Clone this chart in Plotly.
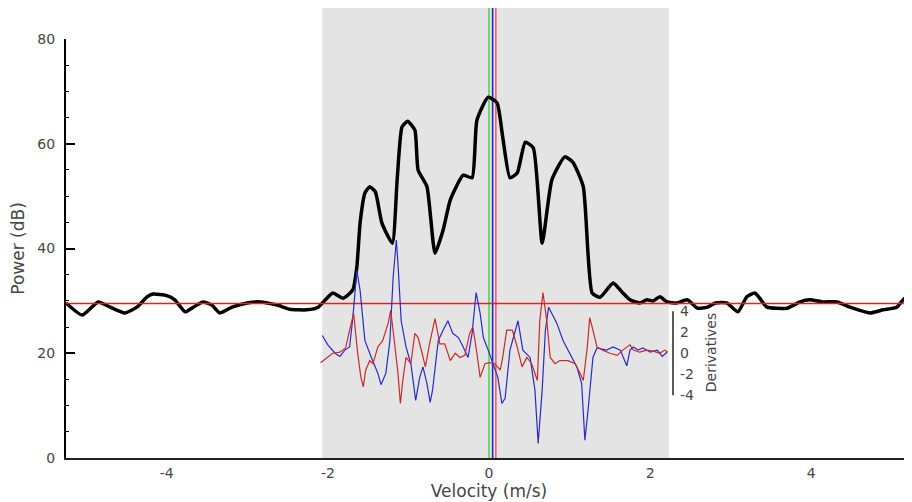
import plotly.graph_objects as go

# ---------------- data ----------------
velocity = [-5.25, -5.05, -4.85, -4.70, -4.52, -4.37, -4.24, -4.17, -4.00, -3.90,
            -3.77, -3.67, -3.55, -3.44, -3.34, -3.19, -3.00, -2.84, -2.63, -2.47,
            -2.26, -2.12, -1.94, -1.81, -1.69, -1.64, -1.60, -1.54, -1.48, -1.41,
            -1.33, -1.20, -1.14, -1.08, -1.01, -0.92, -0.88, -0.77, -0.67, -0.57,
            -0.48, -0.32, -0.21, -0.15, -0.01, 0.10, 0.17, 0.26, 0.35, 0.45,
            0.55, 0.66, 0.78, 0.94, 1.04, 1.17, 1.28, 1.38, 1.54, 1.65,
            1.75, 1.87, 1.96, 2.04, 2.12, 2.21, 2.33, 2.46, 2.59, 2.71,
            2.81, 2.95, 3.09, 3.20, 3.30, 3.36, 3.45, 3.70, 3.86, 3.98,
            4.15, 4.32, 4.48, 4.73, 4.89, 5.06, 5.16, 5.25]
power_db = [29.6, 27.3, 29.8, 28.8, 27.7, 28.8, 30.8, 31.3, 31.0, 30.2,
            27.9, 28.8, 29.8, 29.2, 27.7, 28.8, 29.6, 29.8, 29.2, 28.4,
            28.3, 28.8, 31.5, 30.5, 32.1, 36.5, 44.9, 50.6, 51.8, 50.8,
            44.9, 41.0, 53.1, 63.2, 64.3, 62.6, 55.0, 51.8, 39.1, 43.5,
            49.3, 54.0, 53.5, 64.5, 68.9, 67.8, 61.3, 53.5, 54.4, 60.3,
            59.2, 41.0, 53.1, 57.5, 56.5, 51.8, 31.5, 30.7, 33.4, 31.7,
            30.2, 29.6, 30.2, 30.0, 30.8, 29.8, 29.6, 30.2, 28.6, 28.8,
            29.6, 29.6, 27.9, 30.8, 31.5, 30.5, 28.8, 28.6, 29.8, 30.2,
            29.8, 29.8, 28.8, 27.7, 28.3, 28.8, 30.5, 30.4]

vel_deriv_blue = [-2.07, -2.00, -1.91, -1.85, -1.79, -1.73, -1.69, -1.64, -1.60, -1.54,
                  -1.46, -1.38, -1.34, -1.28, -1.23, -1.19, -1.15, -1.13, -1.09, -1.03,
                  -0.97, -0.91, -0.86, -0.82, -0.77, -0.73, -0.70, -0.63, -0.57, -0.51,
                  -0.45, -0.38, -0.32, -0.26, -0.21, -0.16, -0.11, -0.07, -0.01, 0.05,
                  0.11, 0.16, 0.20, 0.26, 0.36, 0.42, 0.51, 0.57, 0.61, 0.66,
                  0.70, 0.74, 0.84, 0.92, 1.03, 1.09, 1.15, 1.19, 1.23, 1.29,
                  1.34, 1.46, 1.54, 1.63, 1.71, 1.75, 1.79, 1.85, 1.91, 2.00,
                  2.09, 2.15, 2.21]
deriv_blue = [1.7, 0.8, 0.0, -0.3, 0.3, 0.6, 3.4, 7.9, 6.0, 1.2,
              -0.4, -1.9, -3.0, -1.9, 1.2, 7.2, 10.8, 8.6, 3.1, 0.6,
              -1.0, -4.5, -2.3, -1.3, -2.9, -4.7, -3.5, 1.2, 2.2, 3.1,
              1.9, 1.5, 0.6, -0.4, 1.9, 5.8, 3.8, 1.5, 0.3, -1.0,
              -2.3, -4.8, -4.3, 0.3, 3.1, 0.3, -0.4, -3.5, -8.6, -3.5,
              2.2, 4.4, 2.9, 1.2, -0.4, -1.3, -2.9, -8.3, -5.4, -0.4,
              0.5, 0.3, 0.6, 0.3, -1.2, 0.3, 0.6, 0.3, 0.5, 0.1,
              0.3, -0.3, 0.1]

vel_deriv_red = [-2.09, -2.00, -1.94, -1.85, -1.78, -1.73, -1.68, -1.63, -1.59, -1.56,
                 -1.53, -1.48, -1.44, -1.38, -1.32, -1.25, -1.22, -1.18, -1.13, -1.10,
                 -1.07, -1.03, -0.97, -0.92, -0.88, -0.83, -0.79, -0.73, -0.67, -0.61,
                 -0.55, -0.48, -0.42, -0.36, -0.30, -0.24, -0.20, -0.15, -0.11, -0.05,
                 0.01, 0.07, 0.14, 0.17, 0.22, 0.29, 0.35, 0.41, 0.47, 0.53,
                 0.60, 0.63, 0.67, 0.72, 0.76, 0.82, 0.88, 0.98, 1.07, 1.13,
                 1.17, 1.22, 1.25, 1.29, 1.34, 1.41, 1.50, 1.59, 1.66, 1.75,
                 1.79, 1.87, 1.96, 2.04, 2.12, 2.18, 2.22]
deriv_red = [-0.9, -0.4, 0.0, 0.1, 0.5, 2.2, 3.8, 0.0, -2.3, -3.2,
             -1.6, -0.7, -1.0, 0.6, 1.2, 2.9, 4.1, 1.5, -1.9, -4.8,
             -2.6, -0.4, -1.0, 1.9, 1.5, 0.0, -1.3, 1.2, 3.3, 0.9,
             0.9, -0.7, 0.0, -0.4, -0.2, 1.9, 2.5, 0.0, -2.3, -1.0,
             -0.9, -1.0, -1.6, -0.4, 2.2, 2.2, 0.6, -1.3, -0.4, -1.0,
             -2.6, 3.1, 5.8, 2.9, -0.4, -1.0, -0.7, -0.7, -1.0, -1.9,
             -2.6, 0.6, 3.4, 2.2, 0.6, 0.3, 0.0, -0.2, 0.3, 0.8,
             0.3, 0.1, 0.3, 0.2, 0.0, 0.3, 0.1]

baseline_db = 29.5
region_limits = [-2.07, 2.23]
marker_velocities = [0.0, 0.045, 0.085]
marker_colors = ["#4fd84f", "#2727c8", "#f0606e"]
x_ticks = [-4, -2, 0, 2, 4]
x_ticklabels = ["-4", "-2", "0", "2", "4"]
y_ticks = [0, 20, 40, 60, 80]
y_ticklabels = ["0", "20", "40", "60", "80"]
d_ticks = [-4, -2, 0, 2, 4]
d_ticklabels = ["-4", "-2", "0", "2", "4"]

# ---------------- figure ----------------
# page body has an 8px margin, so the figure is 8px smaller than the window
W, H = 904, 494
ML, MR, MT, MB = 58, 0, 0, 44
plot_w = W - ML - MR
plot_h = H - MT - MB
y_top_frac = 419 / plot_h          # y axis (0..80) ends below the paper top
d_axis_pos = (665 - ML) / plot_w
font_col = "#454545"

fig = go.Figure()

fig.add_trace(go.Scatter(x=velocity, y=power_db, mode="lines",
                         line=dict(color="black", width=3.5, shape="spline", smoothing=0.5),
                         showlegend=False))
fig.add_trace(go.Scatter(x=[velocity[0], velocity[-1]], y=[baseline_db, baseline_db],
                         mode="lines", line=dict(color="#d02828", width=1.5),
                         showlegend=False))
fig.add_trace(go.Scatter(x=vel_deriv_blue, y=deriv_blue, mode="lines", yaxis="y2",
                         line=dict(color="#2a2ac8", width=1.2), showlegend=False))
fig.add_trace(go.Scatter(x=vel_deriv_red, y=deriv_red, mode="lines", yaxis="y2",
                         line=dict(color="#c82a2a", width=1.2), showlegend=False))

shapes = [dict(type="rect", xref="x", yref="paper", x0=region_limits[0], x1=region_limits[1],
               y0=0, y1=1, fillcolor="#e4e4e4", line=dict(width=0), layer="below")]
for v, c in zip(marker_velocities, marker_colors):
    shapes.append(dict(type="line", xref="x", yref="paper", x0=v, x1=v, y0=0, y1=1,
                       line=dict(color=c, width=1.6), layer="below"))
shapes.append(dict(type="line", xref="paper", yref="y2", x0=d_axis_pos, x1=d_axis_pos,
                   y0=d_ticks[0], y1=d_ticks[-1], line=dict(color="black", width=1.3)))

fig.update_layout(
    width=W, height=H,
    margin=dict(l=ML, r=MR, t=MT, b=MB, autoexpand=False),
    paper_bgcolor="white", plot_bgcolor="rgba(0,0,0,0)",
    font=dict(family="DejaVu Sans", size=14, color=font_col),
    shapes=shapes,
    xaxis=dict(range=[-5.25, 5.25], domain=[0, 1], showgrid=False, zeroline=False,
               showline=True, linecolor="#222", linewidth=1.5, ticks="",
               tickvals=x_ticks, ticktext=x_ticklabels, ticklabelstandoff=1,
               title=dict(text="Velocity (m/s)", standoff=2), automargin=False),
    yaxis=dict(range=[0, 80], domain=[0, y_top_frac], showgrid=False, zeroline=False,
               showline=True, linecolor="black", linewidth=2, ticks="inside",
               ticklen=9, tickcolor="black", tickwidth=1.5,
               tickvals=y_ticks, ticktext=y_ticklabels, ticklabelstandoff=6,
               minor=dict(dtick=5, ticks="inside", ticklen=3, tickcolor="black", tickwidth=1),
               title=dict(text="Power (dB)", standoff=8), automargin=False),
    yaxis2=dict(overlaying="y", anchor="free", position=d_axis_pos, side="right",
                range=[-10, 30], showgrid=False, zeroline=False, showline=False,
                ticks="", tickvals=d_ticks, ticktext=d_ticklabels,
                ticklabelstandoff=6, automargin=False),
    annotations=[dict(text="Derivatives", textangle=-90, xref="paper", yref="y2",
                      x=(703 - ML) / plot_w, y=0, xanchor="center", yanchor="middle",
                      showarrow=False, font=dict(size=14, color=font_col))],
)

fig.write_html("out.html")
